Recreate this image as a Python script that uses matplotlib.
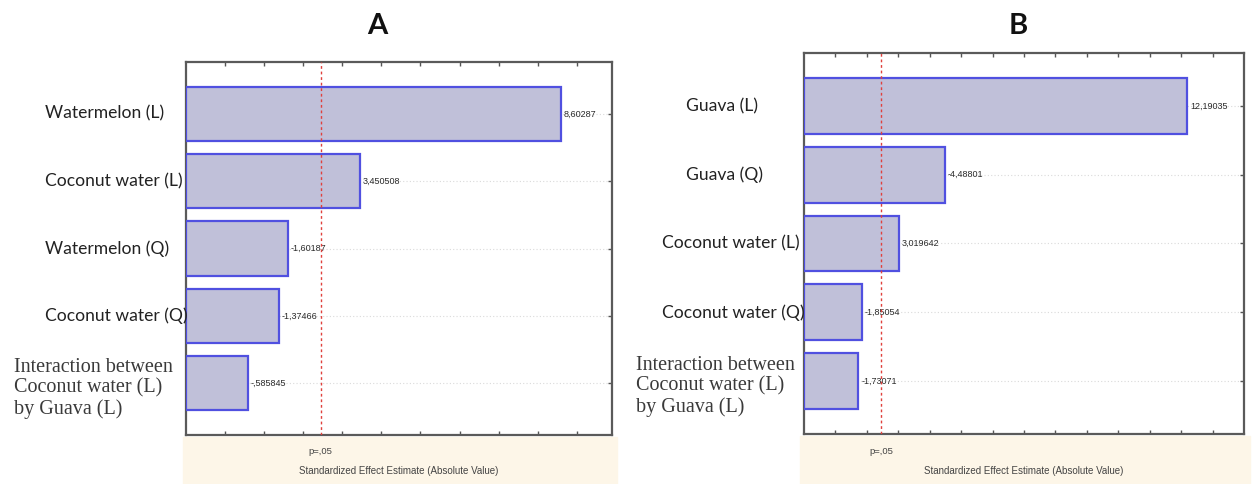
import numpy as np
import matplotlib.pyplot as plt
from matplotlib.patches import Rectangle
from matplotlib.transforms import blended_transform_factory

# Pareto charts of standardized effects (A: watermelon, B: guava)
interaction = "Interaction between\nCoconut water (L)\nby Guava (L)"

labels_A = ["Watermelon (L)", "Coconut water (L)", "Watermelon (Q)", "Coconut water (Q)", interaction]
effects_A = [8.60287, 3.450508, -1.60187, -1.37466, -0.585845]
text_A = ["8,60287", "3,450508", "-1,60187", "-1,37466", "-,585845"]

labels_B = ["Guava (L)", "Guava (Q)", "Coconut water (L)", "Coconut water (Q)", interaction]
effects_B = [12.19035, -4.48801, 3.019642, -1.85054, -1.73071]
text_B = ["12,19035", "-4,48801", "3,019642", "-1,85054", "-1,73071"]

p_crit = 2.447
xlim_A = (-1.0, 9.9)
xlim_B = (0.0, 14.0)

W, H = 1256, 484
fig = plt.figure(figsize=(W / 100, H / 100), dpi=100)

bar_fill = "#c0c0d9"
bar_edge = "#5050e0"
beige = "#fdf6e8"


def panel(rect, labels, effects, vtext, xlim, title, title_x, label_x, beige_rect):
    # cream band under the plot
    bx0, by0, bx1, by1 = beige_rect
    fig.patches.append(Rectangle((bx0 / W, 1 - by1 / H), (bx1 - bx0) / W, (by1 - by0) / H,
                                 transform=fig.transFigure, color=beige, zorder=-1))
    ax = fig.add_axes(rect)
    y = np.arange(len(labels))
    mag = np.abs(effects)
    ax.barh(y, mag - xlim[0], left=xlim[0], height=0.81, color=bar_fill,
            edgecolor=bar_edge, linewidth=1.6, zorder=3)
    for yi, m, t in zip(y, mag, vtext):
        ax.annotate(t, (m, yi), xytext=(2, 0), textcoords="offset points",
                    ha="left", va="center", fontsize=6.5, color="#2a2a2a",
                    family=["Liberation Sans Narrow", "Liberation Sans"], zorder=4)
    ax.axvline(p_crit, color="#e0403c", linestyle=(0, (2, 2)), linewidth=1.0, zorder=5)
    ax.set_xlim(*xlim)
    ax.set_ylim(len(labels) - 1 + 0.77, -0.77)
    ax.set_yticks(y)
    ax.set_yticklabels([])
    ax.set_xticks(np.arange(np.ceil(xlim[0] + 0.5), xlim[1]))
    ax.set_xticklabels([])
    ax.tick_params(direction="in", length=3, width=1, colors="#555555",
                   top=True, right=True)
    ax.grid(axis="y", color="#dadada", linestyle=(0, (1, 2)), linewidth=0.8, zorder=1)
    for s in ax.spines.values():
        s.set_color("#5a5a5a")
        s.set_linewidth(1.6)
    ax.set_facecolor("white")

    tr = blended_transform_factory(fig.transFigure, ax.transData)
    for yi, lab, lx in zip(y, labels, label_x):
        if "\n" in lab:
            ax.text(lx / W, yi + 0.08, lab, transform=tr, ha="left", va="center",
                    fontsize=14.5, family="Liberation Serif", color="#3a3a3a",
                    linespacing=1.08, clip_on=False)
        else:
            ax.text(lx / W, yi, lab, transform=tr, ha="left", va="center",
                    fontsize=12.6, family="Lato", color="#222222", clip_on=False)

    trx = blended_transform_factory(ax.transData, fig.transFigure)
    ax.text(p_crit, 1 - 452 / H, "p=,05", transform=trx, ha="center", va="center",
            fontsize=6.8, color="#444444", family="Liberation Sans")
    cx = (rect[0] + rect[2] / 2)
    fig.text(cx, 1 - 471 / H, "Standardized Effect Estimate (Absolute Value)",
             ha="center", va="center", fontsize=7, color="#444444", family="Liberation Sans")
    fig.text(title_x / W, 1 - 26 / H, title, ha="center", va="center",
             fontsize=21, fontweight="bold", family="Lato", color="#111111")
    return ax


panel([186 / W, 1 - 435 / H, 426 / W, 373 / H], labels_A, effects_A, text_A, xlim_A,
      "A", 377, [45, 45, 45, 45, 14], (183, 437, 617, 484))
panel([804 / W, 1 - 434 / H, 440 / W, 381 / H], labels_B, effects_B, text_B, xlim_B,
      "B", 1018, [686, 686, 662, 662, 636], (800, 436, 1250, 484))

fig.savefig("out.png", dpi=100, facecolor="white")
